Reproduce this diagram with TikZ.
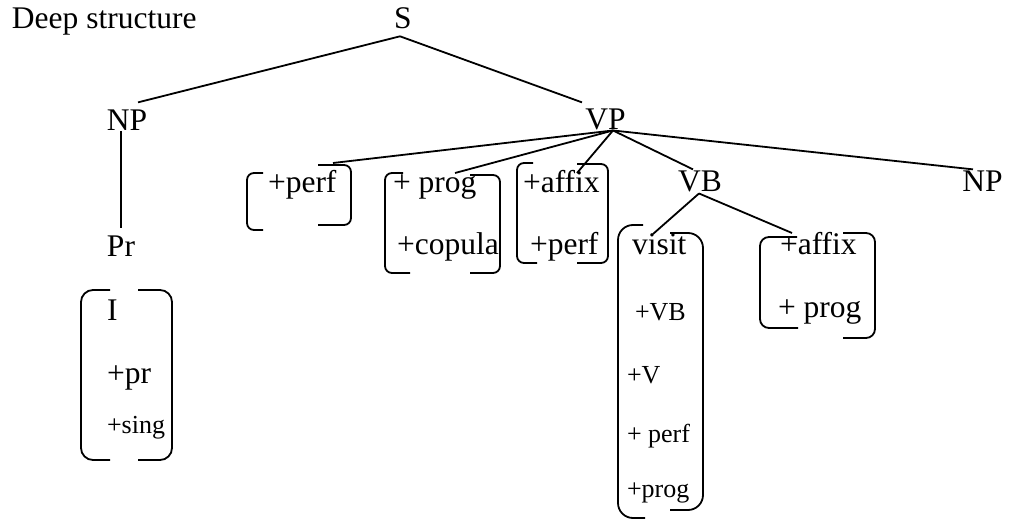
\documentclass[tikz,border=0pt]{standalone}
\usepackage{fontspec}
\setmainfont{Liberation Serif}
\begin{document}
\begin{tikzpicture}[x=1pt,y=-1pt,
  lbl/.style={inner sep=0pt, outer sep=0pt, font=\fontsize{31.5}{36}\selectfont},
  cat/.style={lbl, anchor=base},
  feat/.style={lbl, anchor=base west},
  smallfeat/.style={feat, font=\fontsize{26}{30}\selectfont},
  box/.style={draw=none, inner sep=0pt, outer sep=0pt, rectangle},
  branch/.style={line width=1.8pt},
  brk/.style={line width=1.8pt, rounded corners=#1},
  brk/.default=7pt]
\useasboundingbox (0,0) rectangle (1012,521);

% title
\node[feat] (title) at (12,29) {Deep structure};

% category labels
\node[cat] (S)   at (403,29)    {S};
\node[cat] (NP)  at (127,131)   {NP};
\node[cat] (VP)  at (605.5,130) {VP};
\node[cat] (VB)  at (700,192)   {VB};
\node[cat] (NPo) at (982.5,192) {NP};
\node[cat] (Pr)  at (121,257)   {Pr};

% feature bundles (invisible frames, brackets drawn below)
\node[box, minimum width=104pt, minimum height=65pt]  (bA) at (299,197.5)   {};
\node[box, minimum width=115pt, minimum height=100pt] (bB) at (442.5,223)   {};
\node[box, minimum width=91pt,  minimum height=100pt] (bC) at (562.5,213)   {};
\node[box, minimum width=85pt,  minimum height=293pt] (bD) at (660.5,371.5) {};
\node[box, minimum width=115pt, minimum height=105pt] (bE) at (817.5,285.5) {};
\node[box, minimum width=91pt,  minimum height=170pt] (bF) at (126.5,375)   {};

% feature texts
\node[feat] (a1) at (268,193) {+perf};
\node[feat] (b1) at (393,193) {+ prog};
\node[feat] (b2) at (397,255) {+copula};
\node[feat] (c1) at (523,193) {+affix};
\node[feat] (c2) at (530,255) {+perf};
\node[feat] (d1) at (632,255) {visit};
\node[smallfeat] (d2) at (635,320) {+VB};
\node[smallfeat] (d3) at (627,383) {+V};
\node[smallfeat] (d4) at (627,442) {+ perf};
\node[smallfeat] (d5) at (627,497) {+prog};
\node[feat] (e1) at (780,255) {+affix};
\node[feat] (e2) at (778,318) {+ prog};
\node[feat] (f1) at (107,320) {I};
\node[feat] (f2) at (107,383) {+pr};
\node[smallfeat] (f3) at (107,433) {+sing};

% brackets
\draw[brk] (263,173) -- (247,173) -- (247,230) -- (263,230);
\draw[brk] (318,165) -- (351,165) -- (351,225) -- (318,225);
\draw[brk] (403,173) -- (385,173) -- (385,273) -- (410,273);
\draw[brk] (470,175) -- (500,175) -- (500,273) -- (470,273);
\draw[brk] (533,163) -- (517,163) -- (517,263) -- (537,263);
\draw[brk] (577,164) -- (608,164) -- (608,263) -- (577,263);
\draw[brk=15pt] (643,225) -- (618,225) -- (618,518) -- (645,518);
\draw[brk=15pt] (670,233) -- (703,233) -- (703,510) -- (670,510);
\draw[brk=9pt] (797,237) -- (760,237) -- (760,328) -- (798,328);
\draw[brk=9pt] (843,233) -- (875,233) -- (875,338) -- (843,338);
\draw[brk=12pt] (110,290) -- (81,290) -- (81,460) -- (110,460);
\draw[brk=12pt] (138,290) -- (172,290) -- (172,460) -- (138,460);

% branches
\draw[branch] ([xshift=-3pt,yshift=-7pt]S.south) -- ([xshift=11pt,yshift=8pt]NP.north);
\draw[branch] ([xshift=-3pt,yshift=-7pt]S.south) -- ([xshift=-23.5pt,yshift=7pt]VP.north);
\draw[branch] ([xshift=-6pt]NP.south) -- ([yshift=8pt]Pr.north);
\draw[branch] ([xshift=7.5pt]VP.south) -- ([xshift=34pt,yshift=2pt]bA.north);
\draw[branch] ([xshift=7.5pt]VP.south) -- ([xshift=12.5pt]bB.north);
\draw[branch] ([xshift=7.5pt]VP.south) -- ([xshift=14.5pt,yshift=-10pt]bC.north);
\draw[branch] ([xshift=7.5pt]VP.south) -- ([xshift=-7pt,yshift=2pt]VB.north);
\draw[branch] ([xshift=7.5pt]VP.south) -- ([xshift=-9.5pt,yshift=2pt]NPo.north);
\draw[branch] ([xshift=-1pt,yshift=-1pt]VB.south) -- ([xshift=-7.5pt,yshift=-9pt]bD.north);
\draw[branch] ([xshift=-1pt,yshift=-1pt]VB.south) -- ([xshift=-25.5pt]bE.north);
\end{tikzpicture}
\end{document}
